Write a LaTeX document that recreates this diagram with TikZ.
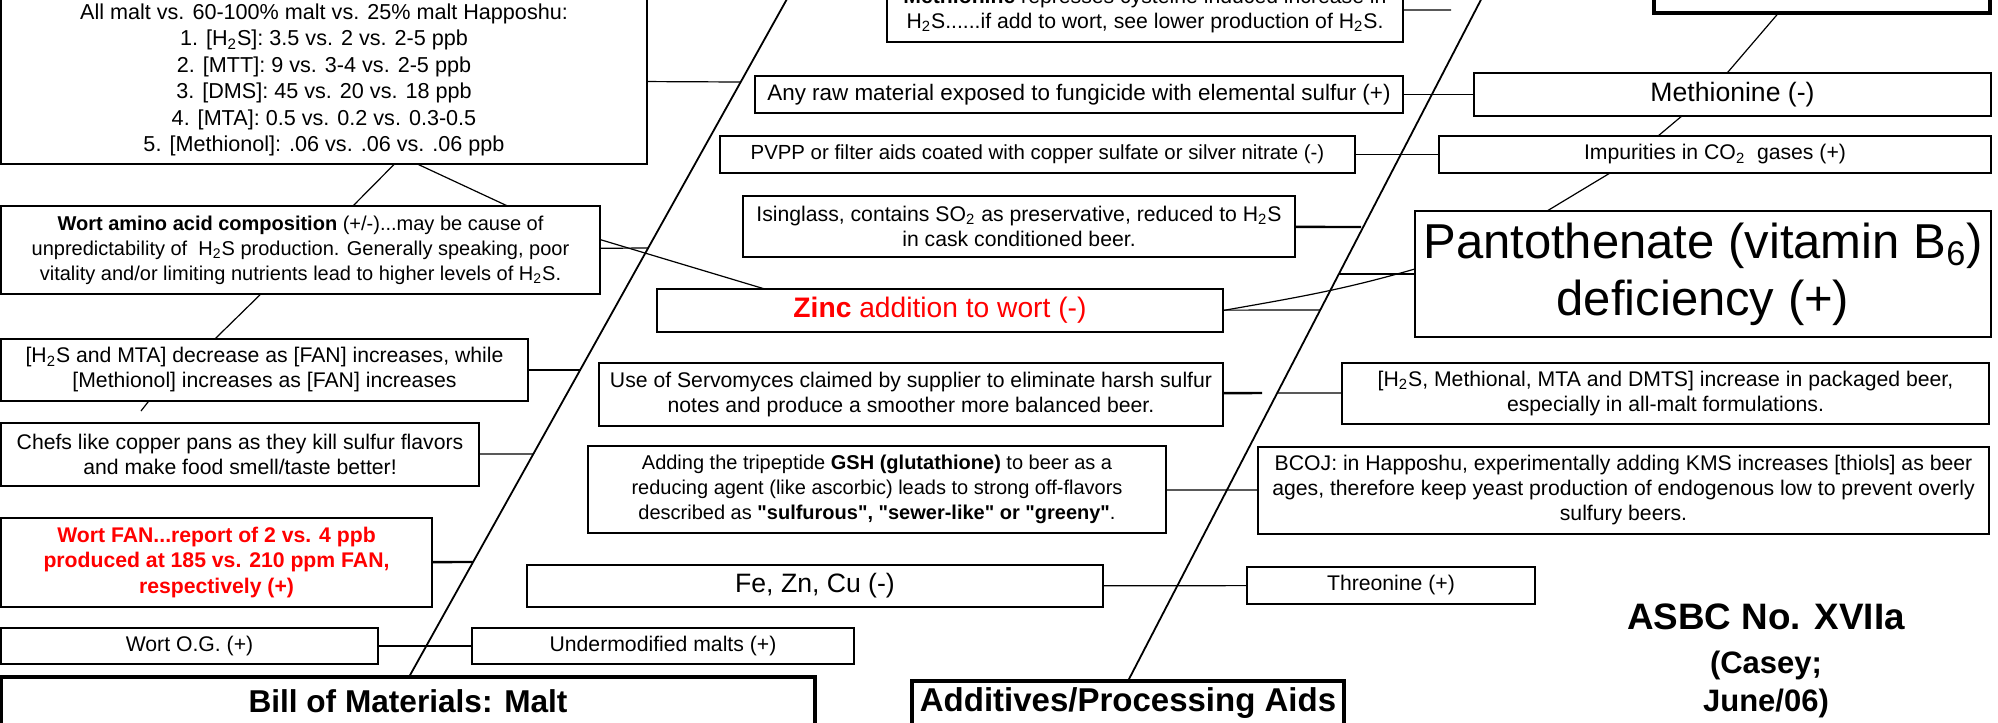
\documentclass[tikz,border=0pt]{standalone}
\usepackage{fontspec}
\setmainfont{Liberation Sans}[Ligatures=TeXOff]
\tikzstyle{cause} = [rectangle, draw=black, line width=0.8pt, inner sep=0pt,
  outer sep=0pt, anchor=north west, align=center,
  font=\fontsize{10.6}{12.5}\selectfont]
\tikzstyle{bigcause} = [cause, font=\fontsize{13.3}{15}\selectfont]
\tikzstyle{head} = [cause, line width=1.8pt,
  font=\bfseries\fontsize{15.8}{18}\selectfont]
\tikzstyle{link} = [line width=0.6pt]
\tikzstyle{boldlink} = [line width=1.2pt]
\tikzstyle{spine} = [line width=0.9pt]

\begin{document}
\begin{tikzpicture}[x=0.5pt, y=-0.5pt]
  \useasboundingbox (0,0) rectangle (1998,723);
  \clip (0,0) rectangle (1998,723);

  % malt side
  \node (allmalt) [cause, minimum width=323pt, minimum height=84pt,
    font=\fontsize{10.8}{13.2}\selectfont] at (1,-4)
    {All malt vs. 60-100\% malt vs. 25\% malt Happoshu:\\
     1. [H\textsubscript{2}S]: 3.5 vs. 2 vs. 2-5 ppb\\
     2. [MTT]: 9 vs. 3-4 vs. 2-5 ppb\\
     3. [DMS]: 45 vs. 20 vs. 18 ppb\\
     4. [MTA]: 0.5 vs. 0.2 vs. 0.3-0.5\\
     5. [Methionol]: .06 vs. .06 vs. .06 ppb};
  \node (wortamino) [cause, minimum width=299.5pt, minimum height=44pt,
    font=\fontsize{10}{12.5}\selectfont] at (1,206)
    {\textbf{Wort amino acid composition} (+/-)...may be cause of\\
     unpredictability of \ H\textsubscript{2}S production. Generally speaking, poor\\
     vitality and/or limiting nutrients lead to higher levels of H\textsubscript{2}S.};
  \node (h2smta) [cause, minimum width=263.5pt, minimum height=31pt]
    at (1,339)
    {[H\textsubscript{2}S and MTA] decrease as [FAN] increases, while\\
     {[}Methionol] increases as [FAN] increases};
  \node (chefs) [cause, minimum width=239pt, minimum height=31.5pt]
    at (1,423)
    {Chefs like copper pans as they kill sulfur flavors\\
     and make food smell/taste better!};
  \node (wortfan) [cause, minimum width=215.5pt, minimum height=44.5pt,
    text=red, font=\bfseries\fontsize{10.6}{12.75}\selectfont] at (1,518)
    {Wort FAN...report of 2 vs. 4 ppb\\
     produced at 185 vs. 210 ppm FAN,\\
     respectively (+)};
  \node (wortog) [cause, minimum width=188.5pt, minimum height=18pt]
    at (1,628) {Wort O.G. (+)};
  \node (undermod) [cause, minimum width=191pt, minimum height=18pt]
    at (472,628) {Undermodified malts (+)};
  \node (bill) [head, minimum width=407pt, minimum height=24pt]
    at (1,677) {Bill of Materials: Malt};

  % additives side
  \node (methrep) [cause, minimum width=258pt, minimum height=31.5pt]
    at (887,-21)
    {\textbf{Methionine} represses cysteine induced increase in\\
     H\textsubscript{2}S......if add to wort, see lower production of H\textsubscript{2}S.};
  \node (anyraw) [cause, minimum width=324pt, minimum height=18.5pt,
    font=\fontsize{11.2}{12.5}\selectfont] at (755,76)
    {Any raw material exposed to fungicide with elemental sulfur (+)};
  \node (pvpp) [cause, minimum width=317.5pt, minimum height=18.5pt,
    font=\fontsize{10.2}{12.5}\selectfont] at (720,136)
    {PVPP or filter aids coated with copper sulfate or silver nitrate (-)};
  \node (isinglass) [cause, minimum width=276pt, minimum height=30.5pt]
    at (743,196)
    {Isinglass, contains SO\textsubscript{2} as preservative, reduced to H\textsubscript{2}S\\
     in cask conditioned beer.};
  \node (zinc) [bigcause, minimum width=283pt, minimum height=21.5pt,
    text=red, font=\fontsize{14.1}{16}\selectfont] at (657,289)
    {\textbf{Zinc} addition to wort (-)};
  \node (servo) [cause, minimum width=312pt, minimum height=31.5pt]
    at (599,363)
    {Use of Servomyces claimed by supplier to eliminate harsh sulfur\\
     notes and produce a smoother more balanced beer.};
  \node (adding) [cause, minimum width=289pt, minimum height=43.5pt,
    font=\fontsize{10}{12.5}\selectfont] at (588,446)
    {Adding the tripeptide \textbf{GSH (glutathione)} to beer as a\\
     reducing agent (like ascorbic) leads to strong off-flavors\\
     described as \textbf{"sulfurous", "sewer-like" or "greeny"}.};
  \node (fezncu) [bigcause, minimum width=288pt, minimum height=21pt]
    at (527,565) {Fe, Zn, Cu (-)};
  \node (additives) [head, minimum width=216pt, minimum height=22pt,
    font=\bfseries\fontsize{16.5}{18}\selectfont] at (912,681)
    {Additives/Processing Aids};

  % right column
  \node (topright) [cause, line width=1.8pt, minimum width=168pt,
    minimum height=36.5pt] at (1654,-60) {};
  \node (methionine) [bigcause, minimum width=258.5pt, minimum height=21.5pt]
    at (1474,73) {Methionine (-)};
  \node (impurities) [cause, minimum width=276pt, minimum height=18.5pt]
    at (1439,136) {Impurities in CO\textsubscript{2} \ gases (+)};
  \node (panto) [cause, minimum width=288pt, minimum height=63pt,
    font=\fontsize{24.5}{28.5}\selectfont] at (1415,211)
    {Pantothenate (vitamin B\textsubscript{6})\\ deficiency (+)};
  \node (h2smeth) [cause, minimum width=323.5pt, minimum height=30.5pt]
    at (1342,363)
    {[H\textsubscript{2}S, Methional, MTA and DMTS] increase in packaged beer,\\
     especially in all-malt formulations.};
  \node (bcoj) [cause, minimum width=365.5pt, minimum height=43.5pt]
    at (1258,447)
    {BCOJ: in Happoshu, experimentally adding KMS increases [thiols] as beer\\
     ages, therefore keep yeast production of endogenous low to prevent overly\\
     sulfury beers.};
  \node (threonine) [cause, minimum width=144pt, minimum height=18.5pt]
    at (1247,567) {Threonine (+)};
  \node (asbc) [align=center, font=\bfseries\fontsize{15.5}{19}\selectfont]
    at (1766,661)
    {{\fontsize{18.4}{22}\selectfont ASBC No. XVIIa}\\[3pt] (Casey;\\ June/06)};

  % spine ends and junctions
  \coordinate (s1top) at (792,-10);
  \coordinate (s2top) at (1486,-10);
  \coordinate (j1) at (740,82);
  \coordinate (j2) at (648,248);
  \coordinate (j3) at (580,370);
  \coordinate (j4) at (533,454);
  \coordinate (j5) at (473,562);
  \coordinate (stub) at (141,411);
  \coordinate (k1) at (1451,10);
  \coordinate (k2) at (1361,227);
  \coordinate (k3) at (1320,310);
  \coordinate (k4) at (1339,274);
  \coordinate (k5) at (1262,393);
  \coordinate (k5b) at (1277,393);
  \coordinate (k6) at (1226,490);

  \draw [spine] ([xshift=204pt]bill.north west) -- (s1top);
  \draw [spine] ([xshift=108pt]additives.north west) -- (s2top);

  \draw [link] (allmalt) -- (j1);
  \draw [link] (allmalt.310) -- (wortamino.40);
  \draw [link] (allmalt.318) -- (wortamino.12);
  \draw [link] (wortamino) -- (j2);
  \draw [link] (wortamino.2) -- (zinc.173);
  \draw [link] (wortamino.228) -- (h2smta.148);
  \draw [link] (h2smta) -- (j3);
  \draw [link] (h2smta.195) -- (stub);
  \draw [link] (chefs) -- (j4);
  \draw [boldlink] (wortfan) -- (j5);
  \draw [link] (wortog) -- (undermod);
  \draw [link] (methrep) -- (k1);
  \draw [link] (anyraw) -- (methionine);
  \draw [link] (pvpp) -- (impurities);
  \draw [boldlink] (isinglass) -- (k2);
  \draw [link] (zinc) -- (k3);
  \draw [link] (zinc.east) to[out=10, in=196] (panto.179);
  \draw [link] (panto) -- (k4);
  \draw [link] (topright.220) -- (methionine.104);
  \draw [link] (methionine.203) -- (impurities.162);
  \draw [link] (impurities.190) -- (panto.158);
  \draw [boldlink] (servo) -- (k5);
  \draw [link] (h2smeth) -- (k5b);
  \draw [link] (adding) -- (k6);
  \draw [link] (bcoj) -- (k6);
  \draw [link] (fezncu) -- (threonine);
\end{tikzpicture}
\end{document}
